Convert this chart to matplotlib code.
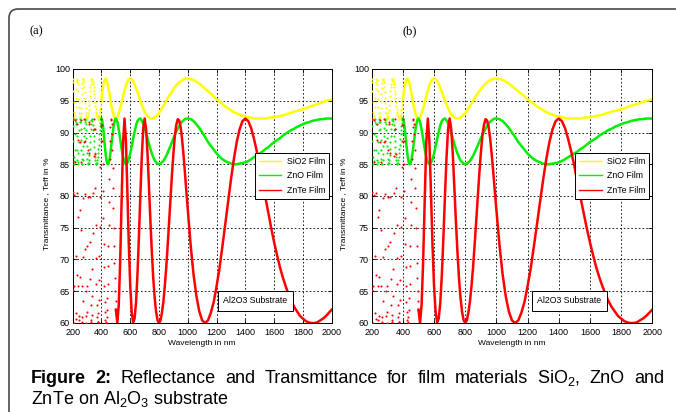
import numpy as np
import matplotlib
matplotlib.use('Agg')
import matplotlib.pyplot as plt
from matplotlib.lines import Line2D
from matplotlib.patches import FancyBboxPatch
from matplotlib.transforms import IdentityTransform

plt.rcParams['mathtext.fontset'] = 'custom'
plt.rcParams['mathtext.rm'] = 'Liberation Sans'
plt.rcParams['mathtext.bf'] = 'Liberation Sans:bold'

# sample wavelengths (nm)
wavelength = np.concatenate([np.arange(200, 501, 5),
                             np.arange(510, 1001, 10),
                             np.arange(1020, 2001, 20)])
# extra in-between samples for the fast-oscillating short-wave part
wavelength_fine = np.arange(202.5, 500, 5)

# transmittance (%)
sio2 = [98.5, 96.6, 93.3, 92.2, 94.0, 96.8, 98.5, 97.6, 95.2, 93.0,
        92.2, 93.0, 94.9, 97.0, 98.3, 98.4, 97.2, 95.5, 93.8, 92.6,
        92.2, 92.6, 93.6, 95.0, 96.5, 97.7, 98.4, 98.5, 98.0, 97.1,
        96.0, 94.8, 93.7, 92.9, 92.4, 92.2, 92.4, 92.8, 93.5, 94.3,
        95.2, 96.2, 97.0, 97.7, 98.2, 98.4, 98.5, 98.3, 98.0, 97.5,
        96.8, 96.2, 95.5, 94.8, 94.1, 93.6, 93.1, 92.7, 92.4, 92.3,
        92.2,
        92.4, 93.0, 93.8, 94.7, 95.7, 96.6, 97.4, 98.0, 98.4, 98.5,
        98.4, 98.1, 97.6, 97.0, 96.4, 95.7, 95.0, 94.4, 93.8, 93.3,
        92.9, 92.6, 92.4, 92.2, 92.2, 92.2, 92.4, 92.5, 92.8, 93.1,
        93.4, 93.8, 94.2, 94.6, 95.0, 95.4, 95.8, 96.1, 96.5, 96.8,
        97.2, 97.4, 97.7, 97.9, 98.1, 98.2, 98.4, 98.4, 98.5, 98.5,
        98.4, 98.3, 98.0, 97.7, 97.3, 96.9, 96.5, 96.1, 95.7, 95.2,
        94.9, 94.5, 94.1, 93.8, 93.5, 93.2, 93.0, 92.8, 92.6, 92.5,
        92.4, 92.3, 92.2, 92.2, 92.2, 92.2, 92.2, 92.3, 92.4, 92.4,
        92.5, 92.6, 92.7, 92.8, 93.0, 93.1, 93.3, 93.4, 93.5, 93.7,
        93.8, 94.0, 94.2, 94.3, 94.5, 94.6, 94.8, 95.0, 95.1, 95.2]

zno = [92.2, 88.6, 85.0, 87.3, 91.6, 91.3, 87.3, 85.0, 86.7, 90.4,
       92.2, 90.5, 87.2, 85.1, 85.6, 87.9, 90.7, 92.2, 91.4, 89.1,
       86.7, 85.2, 85.2, 86.4, 88.5, 90.5, 91.9, 92.1, 91.2, 89.5,
       87.7, 86.1, 85.2, 85.0, 85.6, 86.7, 88.1, 89.7, 91.0, 91.9,
       92.2, 91.9, 91.1, 90.0, 88.7, 87.5, 86.4, 85.6, 85.1, 85.0,
       85.2, 85.7, 86.4, 87.3, 88.3, 89.3, 90.3, 91.1, 91.7, 92.1,
       92.2,
       91.7, 90.5, 89.0, 87.4, 86.2, 85.3, 85.0, 85.2, 85.8, 86.7,
       87.8, 89.0, 90.1, 91.1, 91.8, 92.1, 92.2, 91.9, 91.4, 90.7,
       89.9, 89.1, 88.2, 87.4, 86.7, 86.1, 85.6, 85.3, 85.1, 85.0,
       85.1, 85.3, 85.5, 85.9, 86.3, 86.8, 87.4, 87.9, 88.5, 89.1,
       89.6, 90.1, 90.6, 91.0, 91.4, 91.7, 91.9, 92.1, 92.2, 92.2,
       92.1, 91.8, 91.3, 90.7, 90.0, 89.3, 88.5, 87.9, 87.3, 86.7,
       86.2, 85.8, 85.5, 85.3, 85.1, 85.0, 85.0, 85.1, 85.2, 85.3,
       85.5, 85.8, 86.1, 86.4, 86.7, 87.0, 87.4, 87.7, 88.1, 88.5,
       88.8, 89.1, 89.5, 89.8, 90.1, 90.4, 90.6, 90.9, 91.1, 91.3,
       91.5, 91.6, 91.8, 91.9, 92.0, 92.1, 92.1, 92.2, 92.2, 92.2]

znte = [92.2, 65.2, 65.8, 91.9, 70.6, 60.7, 80.5, 88.8, 65.8, 61.1,
        77.8, 92.0, 74.6, 61.0, 63.5, 79.7, 92.2, 80.3, 65.0, 60.0,
        65.8, 79.9, 91.6, 86.7, 72.7, 62.8, 60.1, 64.2, 74.2, 86.3,
        92.2, 86.6, 75.5, 66.1, 61.0, 60.2, 63.6, 70.6, 79.9, 88.6,
        92.2, 88.7, 80.8, 72.4, 65.8, 61.7, 60.0, 60.9, 63.9, 68.9,
        75.5, 82.6, 88.7, 91.9, 91.3, 87.2, 81.3, 75.0, 69.5, 65.1,
        62.1,
        60.0, 62.8, 69.7, 79.3, 88.4, 92.2, 88.6, 80.7, 72.3, 65.8,
        61.7, 60.1, 60.7, 63.2, 67.6, 73.5, 80.0, 86.1, 90.6, 92.2,
        90.6, 86.7, 81.5, 76.1, 71.2, 67.0, 63.9, 61.7, 60.4, 60.0,
        60.4, 61.6, 63.3, 65.8, 68.7, 72.2, 75.9, 79.7, 83.4, 86.7,
        89.5, 91.2, 92.1, 91.9, 90.9, 89.0, 86.5, 83.7, 80.7, 77.8,
        72.2, 67.6, 64.2, 61.8, 60.4, 60.0, 60.4, 61.6, 63.3, 65.8,
        68.6, 72.0, 75.5, 79.1, 82.6, 85.8, 88.5, 90.5, 91.8, 92.2,
        91.8, 90.7, 89.0, 87.0, 84.7, 82.2, 79.7, 77.3, 74.9, 72.7,
        70.7, 68.8, 67.2, 65.8, 64.5, 63.4, 62.5, 61.8, 61.1, 60.7,
        60.3, 60.1, 60.0, 60.0, 60.1, 60.4, 60.7, 61.1, 61.6, 62.1]

# values at the in-between wavelengths (202.5, 207.5, ...)
sio2_fine = [97.9, 94.8, 92.4, 92.8, 95.4, 97.9, 98.3, 96.5, 94.0, 92.4,
             92.4, 93.8, 96.0, 97.8, 98.5, 97.9, 96.4, 94.6, 93.1, 92.3,
             92.3, 93.0, 94.3, 95.8, 97.1, 98.1, 98.5, 98.3, 97.6, 96.5,
             95.4, 94.2, 93.3, 92.6, 92.2, 92.2, 92.6, 93.1, 93.9, 94.8]

zno_fine = [91.1, 86.2, 85.5, 89.7, 92.2, 89.4, 85.7, 85.4, 88.5, 91.7,
            91.7, 88.8, 85.9, 85.0, 86.6, 89.4, 91.7, 92.0, 90.4, 87.8,
            85.8, 85.0, 85.6, 87.4, 89.5, 91.4, 92.2, 91.8, 90.4, 88.6,
            86.8, 85.6, 85.1, 85.2, 86.1, 87.4, 88.9, 90.4, 91.5, 92.1]

znte_fine = [80.6, 60.0, 80.2, 85.3, 61.5, 67.6, 91.3, 76.7, 60.4, 67.2,
             88.5, 85.4, 65.8, 60.2, 70.4, 88.5, 88.6, 71.7, 61.1, 61.7,
             72.1, 87.2, 91.4, 79.8, 66.9, 60.5, 61.3, 68.5, 80.4, 90.6,
             90.6, 81.2, 70.3, 62.9, 60.1, 61.5, 66.7, 75.1, 84.6, 91.2,
             91.2, 85.1, 76.6, 68.8, 63.3, 60.5, 60.1, 62.1, 66.1, 72.1,
             79.1, 85.9, 90.8, 92.1, 89.7, 84.4, 78.1, 72.1, 67.1, 63.4]

# name, main values, fine values, colour, wavelength where the solid line starts
series = [('SiO2 Film', sio2, sio2_fine, '#ffff00', 400),
          ('ZnO Film', zno, zno_fine, '#00ee00', 400),
          ('ZnTe Film', znte, znte_fine, '#ff0000', 500)]

yticks = [60, 65, 70, 75, 80, 85, 90, 95, 100]
xticks = [200, 400, 600, 800, 1000, 1200, 1400, 1600, 1800, 2000]

SANS = ['Liberation Sans', 'DejaVu Sans']


def draw_panel(ax):
    w = wavelength
    for name, vals, fine, col, cut in series:
        v = np.array(vals)
        wf = wavelength_fine[:len(fine)]
        dots = w <= cut
        ax.plot(np.concatenate([w[dots], wf]), np.concatenate([v[dots], fine]),
                '.', color=col, ms=3.0, mew=0, zorder=3)
        ax.plot(w[w >= cut], v[w >= cut], '-', color=col, lw=1.8, zorder=3)
    ax.set_xlim(200, 2000)
    ax.set_ylim(60, 100)
    ax.set_xticks(xticks)
    ax.set_yticks(yticks)
    ax.grid(True, color='black', linestyle=(0, (2, 2.5)), lw=0.6)
    ax.tick_params(direction='in', top=True, right=True, length=3, width=0.6,
                   labelsize=6.5, pad=2)
    ax.tick_params(axis='x', pad=3.5)
    for lab in ax.get_xticklabels() + ax.get_yticklabels():
        lab.set_family(SANS)
    for s in ax.spines.values():
        s.set_linewidth(0.7)
    ax.set_xlabel('Wavelength in nm', fontsize=6, family=SANS)
    ax.xaxis.set_label_coords(0.5, -0.068)
    ax.set_ylabel('Transmittance , Teff in %', fontsize=6, family=SANS)
    ax.yaxis.set_label_coords(-0.088, 0.47)

    handles = [Line2D([], [], color=s[3], lw=1.0) for s in series]
    leg = ax.legend(handles, [s[0] for s in series], loc='upper right',
                    bbox_to_anchor=(0.99, 0.669), borderaxespad=0,
                    frameon=True, fancybox=False, framealpha=1,
                    edgecolor='black', handlelength=2.6, labelspacing=0.62,
                    borderpad=0.45, handletextpad=0.6,
                    prop={'family': SANS, 'size': 6.3})
    leg.get_frame().set_linewidth(0.7)
    leg.set_zorder(5)

    ax.text(0.705, 0.087, 'Al2O3 Substrate', transform=ax.transAxes,
            ha='center', va='center', fontsize=6.3, family=SANS, zorder=6,
            bbox=dict(boxstyle='square,pad=0.6', fc='white', ec='black', lw=0.7))


fig = plt.figure(figsize=(6.76, 4.12), dpi=100)
fig.patch.set_facecolor('white')

ax1 = fig.add_axes([72.7 / 676, 89 / 412, 259 / 676, 254 / 412])
ax2 = fig.add_axes([371.7 / 676, 89 / 412, 280.6 / 676, 254 / 412])
draw_panel(ax1)
draw_panel(ax2)

fig.text(36 / 676, 1 - 31 / 412, '(a)', fontsize=9, family='Liberation Serif',
         ha='center', va='center')
fig.text(410 / 676, 1 - 31 / 412, '(b)', fontsize=9, family='Liberation Serif',
         ha='center', va='center')

# outer rounded frame (runs off the right and bottom edges)
frame = FancyBboxPatch((9, -30), 720, 412 - 9 + 30,
                       boxstyle='round,pad=0,rounding_size=9',
                       transform=IdentityTransform(), fill=False,
                       ec='#4a4a4a', lw=1.2)
fig.patches.append(frame)

# caption, first line justified word by word
fig.canvas.draw()
renderer = fig.canvas.get_renderer()
words = [('Figure', 'bold'), ('2:', 'bold'), ('Reflectance', 'normal'),
         ('and', 'normal'), ('Transmittance', 'normal'), ('for', 'normal'),
         ('film', 'normal'), ('materials', 'normal'), ('SiO$_2$,', 'normal'),
         ('ZnO', 'normal'), ('and', 'normal')]
cap_size = 13
x0, x1 = 31, 664
texts = []
for wd, wt in words:
    t = fig.text(0, (412 - 383) / 412, wd, fontsize=cap_size, fontweight=wt,
                 family=SANS, va='baseline', ha='left')
    texts.append(t)
widths = [t.get_window_extent(renderer).width for t in texts]
gap = (x1 - x0 - sum(widths)) / (len(words) - 1)
x = x0
for t, wdt in zip(texts, widths):
    t.set_x(x / 676)
    x += wdt + gap
fig.text(x0 / 676, (412 - 404) / 412, 'ZnTe on Al$_2$O$_3$ substrate',
         fontsize=cap_size, family=SANS, va='baseline', ha='left')

fig.savefig('out.png', dpi=100, facecolor='white')
